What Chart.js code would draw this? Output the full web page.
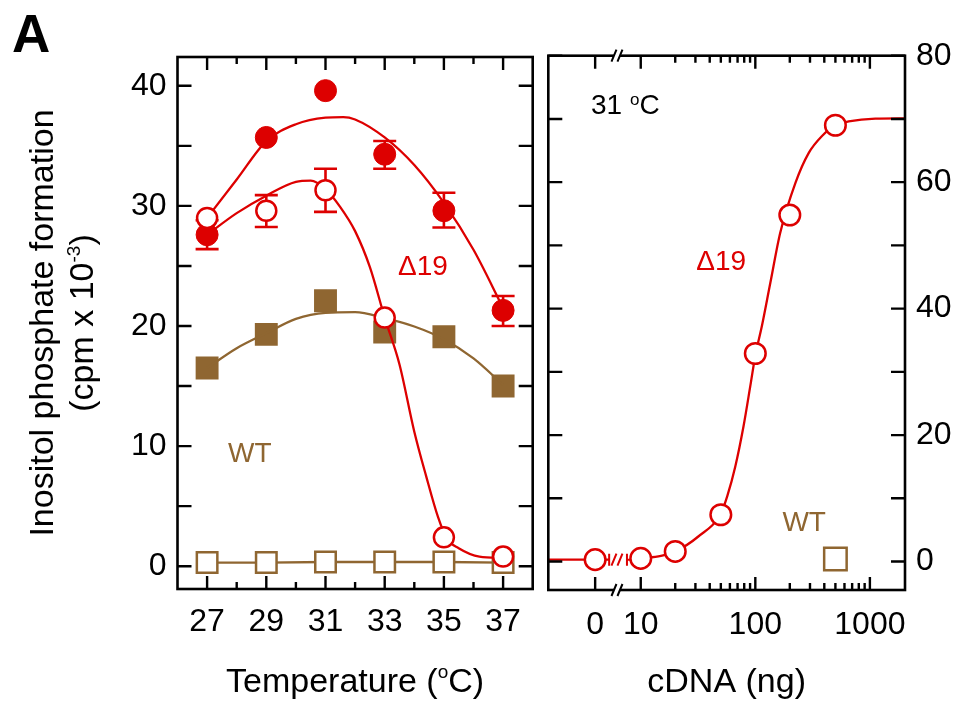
<!DOCTYPE html>
<html>
<head>
<meta charset="utf-8">
<script src="https://cdn.jsdelivr.net/npm/chart.js@4.4.1/dist/chart.umd.min.js"></script>
<style>
html,body{margin:0;padding:0;background:#fff;}
#wrap{position:relative;width:962px;height:701px;overflow:hidden;background:#fff;}
#c1{position:absolute;left:0;top:0;}
#c2{position:absolute;left:540px;top:0;}
</style>
</head>
<body>
<div id="wrap">
<canvas id="c1" width="540" height="701"></canvas>
<canvas id="c2" width="422" height="701"></canvas>
</div>
<script>
// ---------------- Left panel data (temperature) ----------------
const tempCategories   = [27, 29, 31, 33, 35, 37];
const tempTickLabels   = ['27', '29', '31', '33', '35', '37'];
const tempMinorTicks   = [28, 30, 32, 34, 36];
const leftYTicks       = [0, 10, 20, 30, 40];
const leftYMinorTicks  = [5, 15, 25, 35];

const d19FilledValues  = [27.6, 35.7, 39.6, 34.3, 29.6, 21.3];
const d19FilledErrLow  = [26.4, null, null, 33.1, 28.2, 20.0];
const d19FilledErrHigh = [28.8, null, null, 35.4, 31.1, 22.5];
const d19OpenValues    = [29.0, 29.6, 31.3, 20.7, 2.4, 0.8];
const d19OpenErrLow    = [null, 28.25, 29.5, null, null, null];
const d19OpenErrHigh   = [null, 30.9, 33.1, null, null, null];
const wtFilledValues   = [16.5, 19.3, 22.1, 19.5, 19.1, 15.0];
const wtOpenValues     = [0.3, 0.3, 0.35, 0.35, 0.35, 0.3];

// fitted curves
const d19FilledFitX = [27, 28, 29, 30, 31, 31.6, 32, 33, 34, 35, 36, 37];
const d19FilledFitY = [29.0, 32.2, 35.4, 36.8, 37.35, 37.4, 37.2, 35.7, 33.4, 30.25, 26.35, 21.5];
const d19OpenFitX   = [27, 28, 29, 30, 30.5, 31, 31.5, 32, 32.5, 33, 33.5, 34, 34.4, 34.8, 35.1, 35.5, 36.2, 37];
const d19OpenFitY   = [27.6, 29.4, 30.85, 32.0, 32.1, 31.4, 29.9, 27.9, 24.9, 20.7, 16.8, 11.2, 7.5, 4.1, 2.3, 1.5, 0.8, 0.7];
const wtFilledFitX  = [27, 28, 29, 30, 31, 32, 33, 34, 35, 36, 37];
const wtFilledFitY  = [16.5, 18.15, 19.4, 20.6, 21.1, 21.15, 20.65, 19.96, 18.9, 17.3, 15.1];

// ---------------- Right panel data (cDNA dose) ----------------
const cdnaAmounts      = [0, 10, 20, 50, 100, 200, 500];
const d19CdnaValues    = [0.3, 0.5, 1.6, 7.4, 32.9, 54.8, 69.0];
const wtCdnaAmounts    = [500];
const wtCdnaValues     = [0.4];
const cdnaTickValues   = [0, 10, 100, 1000];
const cdnaTickLabels   = ['0', '10', '100', '1000'];
const cdnaMinorTicks   = [20, 30, 40, 50, 60, 70, 80, 90, 200, 300, 400, 500, 600, 700, 800, 900];
const rightYTicks      = [0, 20, 40, 60, 80];
const rightYMinorTicks = [10, 30, 50, 70];
// fitted curve (axis units; the part left of the axis break, then the part right of it)
const cdnaFitPreX  = [1.56, 4, 5.3];
const cdnaFitPreY  = [0.3, 0.3, 0.3];
const cdnaFitPostX = [10, 15, 20, 32, 50, 57, 66.8, 78.9, 90.3, 100, 114, 135, 165, 224, 292, 382, 500, 653, 1117, 2025];
const cdnaFitPostY = [0.5, 0.9, 1.6, 4.0, 7.6, 10.4, 15.0, 21.4, 27.7, 32.6, 37.2, 44.0, 52.0, 59.9, 64.6, 67.3, 69.0, 69.6, 70.05, 70.1];

const ZERO_AT  = 4;    // where "0" sits on the broken log axis
const BREAK_AT = 6.2;  // where the axis break sits
const toAxis = v => (v === 0 ? ZERO_AT : v);

// ---------------- texts ----------------
const panelLetter = 'A';
const yTitleLine1 = 'Inositol phosphate formation';
const yTitleLine2 = ['(cpm x 10', '-3', ')'];
const xTitleLeft  = ['Temperature (', 'o', 'C)'];
const xTitleRight = 'cDNA (ng)';

// ---------------- styles ----------------
const RED = '#dd0000';
const BROWN = '#8f6631';
const FONT = "'Liberation Sans', Arial, Helvetica, sans-serif";

const pts = (xs, ys) => xs.map((x, i) => ({x: x, y: ys[i]}));

function richText(ctx, parts, x, y, align) {
  // parts: [{t, size, dy}]
  let w = 0;
  parts.forEach(p => { ctx.font = p.size + 'px ' + FONT; w += ctx.measureText(p.t).width; });
  let cx = align === 'center' ? x - w / 2 : (align === 'right' ? x - w : x);
  ctx.textAlign = 'left';
  ctx.textBaseline = 'alphabetic';
  parts.forEach(p => {
    ctx.font = p.size + 'px ' + FONT;
    ctx.fillText(p.t, cx, y - (p.dy || 0));
    cx += ctx.measureText(p.t).width;
  });
}

function drawFrame(chart, spec) {
  const ctx = chart.ctx, a = chart.chartArea;
  const X = chart.scales.x, Y = chart.scales.y;
  ctx.save();
  ctx.strokeStyle = '#000';
  ctx.lineCap = 'butt';
  ctx.lineWidth = 2.4;
  ctx.beginPath();
  spec.xMajor.forEach(v => {
    const px = X.getPixelForValue(v);
    ctx.moveTo(px, a.bottom); ctx.lineTo(px, a.bottom - 13);
    ctx.moveTo(px, a.top); ctx.lineTo(px, a.top + 13);
  });
  spec.xMinor.forEach(v => {
    const px = X.getPixelForValue(v);
    ctx.moveTo(px, a.bottom); ctx.lineTo(px, a.bottom - 7);
    ctx.moveTo(px, a.top); ctx.lineTo(px, a.top + 7);
  });
  spec.yAll.forEach(v => {
    const py = Y.getPixelForValue(v);
    ctx.moveTo(a.left, py); ctx.lineTo(a.left + 14, py);
    ctx.moveTo(a.right, py); ctx.lineTo(a.right - 14, py);
  });
  ctx.stroke();
  ctx.lineWidth = 2.6;
  ctx.strokeRect(a.left, a.top, a.right - a.left, a.bottom - a.top);
  ctx.restore();
}

function drawSlashes(ctx, px, py, color, clear) {
  ctx.save();
  if (clear) {
    ctx.fillStyle = '#fff';
    ctx.fillRect(px - 3, py - 3, 6, 6);
  }
  ctx.strokeStyle = color;
  ctx.lineWidth = 2;
  ctx.beginPath();
  [-3, 3].forEach(dx => {
    ctx.moveTo(px + dx - 2.5, py + 6);
    ctx.lineTo(px + dx + 2.5, py - 6);
  });
  ctx.stroke();
  ctx.restore();
}

const commonOptions = {
  responsive: false,
  animation: false,
  events: [],
  plugins: { legend: {display: false}, tooltip: {enabled: false} },
};

// ================= LEFT PANEL =================
const leftPlugin = {
  id: 'leftDecor',
  beforeDatasetsDraw(chart) {
    const X = chart.scales.x, Y = chart.scales.y, ctx = chart.ctx;
    ctx.save();
    ctx.strokeStyle = RED;
    ctx.lineWidth = 2.6;
    [[d19FilledErrLow, d19FilledErrHigh], [d19OpenErrLow, d19OpenErrHigh]].forEach(([lo, hi]) => {
      tempCategories.forEach((t, i) => {
        if (lo[i] == null) return;
        const px = X.getPixelForValue(t);
        const pl = Y.getPixelForValue(lo[i]);
        const ph = Y.getPixelForValue(hi[i]);
        ctx.beginPath();
        ctx.moveTo(px, pl); ctx.lineTo(px, ph);
        ctx.moveTo(px - 11.5, pl); ctx.lineTo(px + 11.5, pl);
        ctx.moveTo(px - 11.5, ph); ctx.lineTo(px + 11.5, ph);
        ctx.stroke();
      });
    });
    ctx.restore();
  },
  afterDraw(chart) {
    const ctx = chart.ctx, a = chart.chartArea;
    const X = chart.scales.x, Y = chart.scales.y;
    drawFrame(chart, {xMajor: tempCategories, xMinor: tempMinorTicks, yAll: leftYTicks.concat(leftYMinorTicks)});
    ctx.save();
    // panel letter
    ctx.fillStyle = '#000';
    ctx.font = 'bold 53px ' + FONT;
    ctx.textAlign = 'left';
    ctx.textBaseline = 'alphabetic';
    ctx.fillText(panelLetter, 12, 52);
    // annotations
    ctx.font = '28px ' + FONT;
    ctx.textAlign = 'center';
    ctx.textBaseline = 'middle';
    ctx.fillStyle = RED;
    ctx.fillText('\u039419', X.getPixelForValue(34.29), Y.getPixelForValue(24.9));
    ctx.fillStyle = BROWN;
    ctx.fillText('WT', X.getPixelForValue(28.44), Y.getPixelForValue(9.3));
    // x title
    ctx.fillStyle = '#000';
    const cx = (a.left + a.right) / 2;
    richText(ctx, [{t: xTitleLeft[0], size: 34}, {t: xTitleLeft[1], size: 19, dy: 14}, {t: xTitleLeft[2], size: 34}], cx, 692, 'center');
    // y title (rotated)
    const cy = (a.top + a.bottom) / 2;
    ctx.translate(53, cy);
    ctx.rotate(-Math.PI / 2);
    richText(ctx, [{t: yTitleLine1, size: 34}], 0, 0, 'center');
    ctx.translate(0, 40);
    richText(ctx, [{t: yTitleLine2[0], size: 34}, {t: yTitleLine2[1], size: 19, dy: 13}, {t: yTitleLine2[2], size: 34}], 0, 0, 'center');
    ctx.restore();
  }
};

new Chart(document.getElementById('c1'), {
  type: 'scatter',
  data: {
    datasets: [
      {label: '\u039419 open', data: pts(tempCategories, d19OpenValues), order: 0,
       pointStyle: 'circle', pointRadius: 10, pointBorderWidth: 2.5,
       pointBorderColor: RED, pointBackgroundColor: '#fff', showLine: false},
      {label: '\u039419 open fit', data: pts(d19OpenFitX, d19OpenFitY), order: 1,
       showLine: true, pointRadius: 0, borderColor: RED, borderWidth: 2.3, cubicInterpolationMode: 'monotone'},
      {label: '\u039419 filled fit', data: pts(d19FilledFitX, d19FilledFitY), order: 2,
       showLine: true, pointRadius: 0, borderColor: RED, borderWidth: 2.3, cubicInterpolationMode: 'monotone'},
      {label: '\u039419 filled', data: pts(tempCategories, d19FilledValues), order: 3,
       pointStyle: 'circle', pointRadius: 11, pointBorderWidth: 1,
       pointBorderColor: RED, pointBackgroundColor: RED, showLine: false},
      {label: 'WT filled fit', data: pts(wtFilledFitX, wtFilledFitY), order: 4,
       showLine: true, pointRadius: 0, borderColor: BROWN, borderWidth: 2.3, cubicInterpolationMode: 'monotone'},
      {label: 'WT open', data: pts(tempCategories, wtOpenValues), order: 5,
       showLine: true, borderColor: BROWN, borderWidth: 2.3,
       pointStyle: 'rect', pointRadius: 14.5, pointBorderWidth: 2.5,
       pointBorderColor: BROWN, pointBackgroundColor: '#fff'},
      {label: 'WT filled', data: pts(tempCategories, wtFilledValues), order: 6,
       pointStyle: 'rect', pointRadius: 16.2, pointBorderWidth: 0,
       pointBorderColor: BROWN, pointBackgroundColor: BROWN, showLine: false},
    ]
  },
  options: Object.assign({}, commonOptions, {
    layout: {padding: {left: 0, right: 7.3, top: 57, bottom: 0}, autoPadding: false},
    scales: {
      x: {
        type: 'linear', min: 26, max: 38,
        afterBuildTicks: s => { s.ticks = tempCategories.map(v => ({value: v})); },
        afterFit: s => { s.height = 112; },
        ticks: {font: {family: FONT, size: 32}, color: '#000', padding: 13.5, maxRotation: 0, autoSkip: false,
                callback: (v) => tempTickLabels[tempCategories.indexOf(v)]},
        grid: {display: false, drawTicks: false},
        border: {display: false}
      },
      y: {
        type: 'linear', min: -1.9, max: 42.4,
        afterBuildTicks: s => { s.ticks = leftYTicks.map(v => ({value: v})); },
        afterFit: s => { s.width = 177.5; },
        ticks: {font: {family: FONT, size: 32}, color: '#000', padding: 11, callback: v => String(v)},
        grid: {display: false, drawTicks: false},
        border: {display: false}
      }
    }
  }),
  plugins: [leftPlugin]
});

// ================= RIGHT PANEL =================
const rightPlugin = {
  id: 'rightDecor',
  afterDatasetsDraw(chart) {
    const X = chart.scales.x, Y = chart.scales.y, ctx = chart.ctx;
    // break marks on the fitted curve
    const py = Y.getPixelForValue(cdnaFitPreY[cdnaFitPreY.length - 1]);
    const pb = X.getPixelForValue(BREAK_AT);
    ctx.save();
    ctx.strokeStyle = RED; ctx.lineWidth = 2;
    ctx.beginPath();
    const pe = X.getPixelForValue(cdnaFitPreX[cdnaFitPreX.length - 1]);
    ctx.moveTo(pe, py - 6); ctx.lineTo(pe, py + 6);
    ctx.moveTo(pb + 10, py - 6); ctx.lineTo(pb + 10, py + 6);
    ctx.moveTo(pb + 10, py); ctx.lineTo(pb + 14, py);
    ctx.stroke();
    ctx.restore();
    drawSlashes(ctx, pb, py, RED, false);
  },
  afterDraw(chart) {
    const ctx = chart.ctx, a = chart.chartArea;
    const X = chart.scales.x, Y = chart.scales.y;
    drawFrame(chart, {xMajor: cdnaTickValues.map(toAxis), xMinor: cdnaMinorTicks, yAll: rightYTicks.concat(rightYMinorTicks)});
    const pb = X.getPixelForValue(BREAK_AT);
    drawSlashes(ctx, pb, a.top, '#000', true);
    drawSlashes(ctx, pb, a.bottom, '#000', true);
    ctx.save();
    ctx.font = '28px ' + FONT;
    ctx.textAlign = 'center';
    ctx.textBaseline = 'middle';
    ctx.fillStyle = RED;
    ctx.fillText('\u039419', X.getPixelForValue(50.4), Y.getPixelForValue(47.3));
    ctx.fillStyle = BROWN;
    ctx.fillText('WT', X.getPixelForValue(267), Y.getPixelForValue(6.1));
    ctx.fillStyle = '#000';
    richText(ctx, [{t: '31 ', size: 28}, {t: 'o', size: 17, dy: 9}, {t: 'C', size: 28}], X.getPixelForValue(3.68), Y.getPixelForValue(72.3) + 10, 'left');
    richText(ctx, [{t: xTitleRight, size: 34}], (a.left + a.right) / 2, 692, 'center');
    ctx.restore();
  }
};

new Chart(document.getElementById('c2'), {
  type: 'scatter',
  data: {
    datasets: [
      {label: '\u039419', data: pts(cdnaAmounts.map(toAxis), d19CdnaValues), order: 0,
       pointStyle: 'circle', pointRadius: 10.3, pointBorderWidth: 2.5,
       pointBorderColor: RED, pointBackgroundColor: '#fff', showLine: false},
      {label: 'fit a', data: pts(cdnaFitPreX, cdnaFitPreY), order: 1,
       showLine: true, pointRadius: 0, borderColor: RED, borderWidth: 2.3},
      {label: 'fit b', data: pts(cdnaFitPostX, cdnaFitPostY), order: 2,
       showLine: true, pointRadius: 0, borderColor: RED, borderWidth: 2.3, cubicInterpolationMode: 'monotone'},
      {label: 'WT', data: pts(wtCdnaAmounts, wtCdnaValues), order: 3,
       pointStyle: 'rect', pointRadius: 15.9, pointBorderWidth: 2.5,
       pointBorderColor: BROWN, pointBackgroundColor: '#fff', showLine: false},
    ]
  },
  options: Object.assign({}, commonOptions, {
    layout: {padding: {left: 8.3, right: 0, top: 55.7, bottom: 0}, autoPadding: false},
    scales: {
      x: {
        type: 'logarithmic', min: 1.56, max: 2025,
        afterBuildTicks: s => { s.ticks = cdnaTickValues.map(v => ({value: toAxis(v)})); },
        afterFit: s => { s.height = 111; },
        ticks: {font: {family: FONT, size: 32}, color: '#000', padding: 16, maxRotation: 0, autoSkip: false,
                callback: (v) => cdnaTickLabels[cdnaTickValues.map(toAxis).indexOf(v)]},
        grid: {display: false, drawTicks: false},
        border: {display: false}
      },
      y: {
        type: 'linear', position: 'right', min: -4.5, max: 80,
        afterBuildTicks: s => { s.ticks = rightYTicks.map(v => ({value: v})); },
        afterFit: s => { s.width = 57; },
        ticks: {font: {family: FONT, size: 32}, color: '#000', padding: 11, callback: v => String(v)},
        grid: {display: false, drawTicks: false},
        border: {display: false}
      }
    }
  }),
  plugins: [rightPlugin]
});
</script>
</body>
</html>
